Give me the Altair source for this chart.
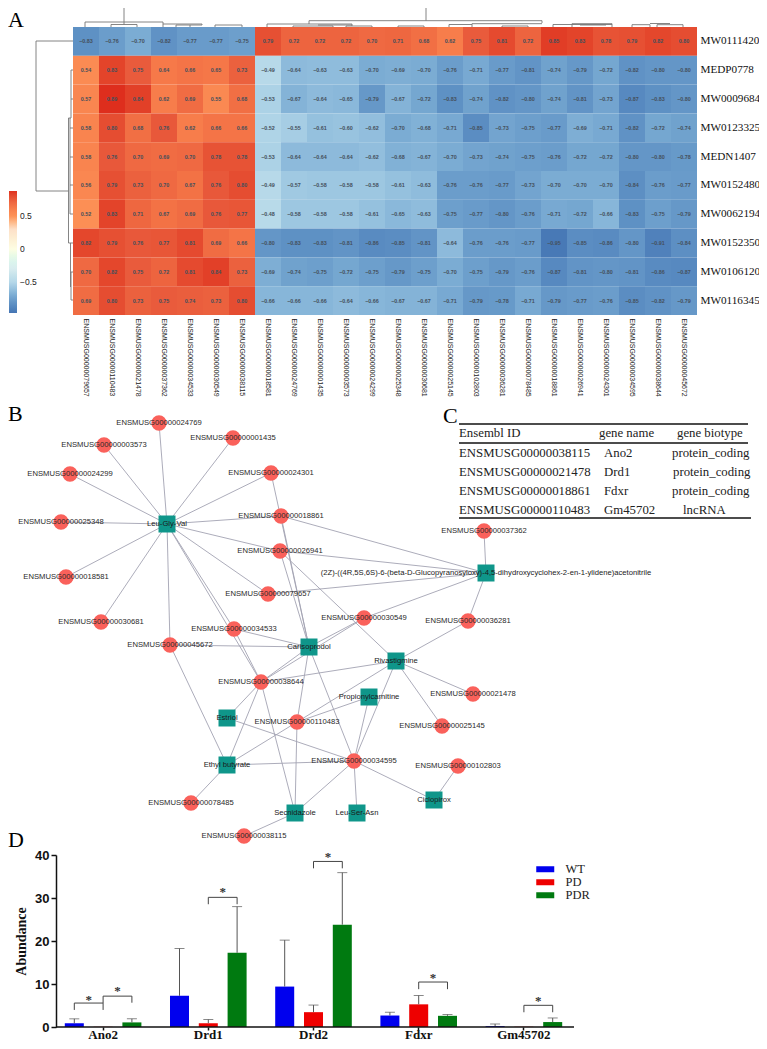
import altair as alt
import pandas as pd

SANS = "Liberation Sans"
SERIF = "Liberation Serif"

# ---------- Panel A data ----------
cols = ["ENSMUSG00000079657","ENSMUSG00000110483","ENSMUSG00000021478","ENSMUSG00000037362","ENSMUSG00000034533","ENSMUSG00000030549","ENSMUSG00000038115",
        "ENSMUSG00000018581","ENSMUSG00000024769","ENSMUSG00000001435","ENSMUSG00000003573","ENSMUSG00000024299","ENSMUSG00000025348","ENSMUSG00000030681",
        "ENSMUSG00000025145","ENSMUSG00000102803","ENSMUSG00000036281","ENSMUSG00000078485","ENSMUSG00000018861","ENSMUSG00000026941","ENSMUSG00000024301",
        "ENSMUSG00000034595","ENSMUSG00000038644","ENSMUSG00000045672"]
rows = ["MW0111420","MEDP0778","MW0009684","MW0123325","MEDN1407","MW0152480","MW0062194","MW0152350","MW0106120","MW0116345"]
r0 = [-0.83,-0.76,-0.70,-0.82,-0.77,-0.77,-0.75,0.79,0.72,0.72,0.72,0.70,0.71,0.68,0.62,0.75,0.81,0.72,0.85,0.83,0.78,0.79,0.82,0.80]
r1 = [0.54,0.83,0.75,0.64,0.66,0.65,0.73,-0.49,-0.64,-0.63,-0.63,-0.70,-0.69,-0.70,-0.76,-0.71,-0.77,-0.81,-0.74,-0.79,-0.72,-0.82,-0.80,-0.80]
r2 = [0.57,0.89,0.84,0.62,0.69,0.55,0.68,-0.53,-0.67,-0.64,-0.65,-0.79,-0.67,-0.72,-0.83,-0.74,-0.82,-0.80,-0.74,-0.81,-0.73,-0.87,-0.83,-0.80]
r3 = [0.58,0.80,0.68,0.76,0.62,0.66,0.66,-0.52,-0.55,-0.61,-0.60,-0.62,-0.70,-0.68,-0.71,-0.85,-0.73,-0.75,-0.77,-0.69,-0.71,-0.82,-0.72,-0.74]
r4 = [0.58,0.76,0.70,0.69,0.70,0.78,0.78,-0.53,-0.64,-0.64,-0.64,-0.62,-0.68,-0.67,-0.70,-0.73,-0.74,-0.75,-0.76,-0.72,-0.72,-0.80,-0.80,-0.78]
r5 = [0.56,0.79,0.73,0.70,0.67,0.76,0.80,-0.49,-0.57,-0.58,-0.58,-0.58,-0.61,-0.63,-0.76,-0.76,-0.77,-0.73,-0.70,-0.70,-0.70,-0.84,-0.76,-0.77]
r6 = [0.52,0.83,0.71,0.67,0.69,0.76,0.77,-0.48,-0.58,-0.58,-0.58,-0.61,-0.65,-0.63,-0.75,-0.77,-0.80,-0.76,-0.71,-0.72,-0.66,-0.83,-0.75,-0.79]
r7 = [0.82,0.79,0.76,0.77,0.81,0.69,0.66,-0.80,-0.83,-0.83,-0.81,-0.86,-0.85,-0.81,-0.64,-0.76,-0.76,-0.77,-0.95,-0.85,-0.86,-0.80,-0.91,-0.84]
r8 = [0.70,0.82,0.75,0.72,0.81,0.84,0.73,-0.69,-0.74,-0.75,-0.72,-0.75,-0.79,-0.75,-0.70,-0.75,-0.79,-0.76,-0.87,-0.81,-0.80,-0.81,-0.86,-0.87]
r9 = [0.69,0.80,0.73,0.75,0.74,0.73,0.80,-0.66,-0.66,-0.66,-0.64,-0.66,-0.67,-0.67,-0.71,-0.79,-0.78,-0.71,-0.79,-0.77,-0.76,-0.85,-0.82,-0.79]
matrix = [r0,r1,r2,r3,r4,r5,r6,r7,r8,r9]

color_stops = [-0.97,-0.85,-0.75,-0.65,-0.5,-0.3,0,0.3,0.5,0.65,0.75,0.88]
color_vals = ["#4575b4","#5b8dc2","#6d9fcc","#8ab8da","#b5d8e9","#d8ecef","#fdfde2","#fde0c8","#fd9257","#f57748","#e95b3c","#df321f"]

# dendrogram segments: x1, y1, x2, y2 in the panel's layout units
den_top = [
 (124,8,124,22),(85,22,163,22),(85,22,85,27),(163,22,163,24),
 (111,24.5,137,24.5),(111,24.5,111,27),(137,24.5,137,27),(124,22,124,24.5),
 (163,24,202,24),(163,24,163,27),(176,25,202,25),(176,25,176,27),(190,25,190,27),
 (202,24,202,25),(215,25,242,25),(215,25,215,27),(242,25,242,27),
 (426,8,426,20.7),(309,20.7,542,20.7),(309,20.7,309,24),(542,20.7,542,23),
 (267,24,352,24),(267,24,267,27),(352,24,352,26),(293,26,333,26),(293,26,293,27),(333,26,333,27),
 (318,25,352,25),(346,26,372,26),(372,26,372,27),(346,26,346,27),
 (449,24.5,472,24.5),(449,24.5,449,27),(472,23.7,542,23.7),(472,23.7,472,27),
 (398,26,424,26),(398,26,398,27),(424,26,424,27),(502,26,528,26),(502,26,502,27),(528,26,528,27),
 (553,24.5,612,24.5),(553,24.5,553,27),(572,23.7,612,23.7),(572,23.7,572,27),(580,25,606,25),(612,23.7,612,27),
 (632,24.7,650,24.7),(632,24.7,632,27),(650,24.7,650,27),(657,24.7,683,24.7),(657,24.7,657,27),(683,24.7,683,27),
 (650,23.5,670,23.5),
]
den_left = [
 (36,41,36,191),(36,41,73,41),(36,191,68.5,191),
 (68.5,118,68.5,243),(68.5,118,71,118),(71,70,71,100),(71,70,73,70),(71,99,73,99),(71,100,71,118),
 (70,118,70,214),(70,128,73,128),(70,157,73,157),(70,185,73,185),(70,214,73,214),
 (68.5,243,73,243),(70.5,243,70.5,287),(71,272,73,272),(71,300,73,300),(71,272,71,300),
]

# ---------- Panel B data ----------
gene_nodes = ["ENSMUSG00000024769","ENSMUSG00000003573","ENSMUSG00000001435","ENSMUSG00000024299","ENSMUSG00000024301","ENSMUSG00000025348",
              "ENSMUSG00000018861","ENSMUSG00000026941","ENSMUSG00000018581","ENSMUSG00000079657","ENSMUSG00000030681","ENSMUSG00000034533",
              "ENSMUSG00000030549","ENSMUSG00000045672","ENSMUSG00000038644","ENSMUSG00000110483","ENSMUSG00000034595","ENSMUSG00000078485",
              "ENSMUSG00000038115","ENSMUSG00000021478","ENSMUSG00000025145","ENSMUSG00000102803","ENSMUSG00000037362","ENSMUSG00000036281"]
gene_x = [159,104,233,70,271,61,281,280,66,268,101,234,364,170,261,297,354,191,244,473,442,458,484,468]
gene_y = [423,445,438,474,473,522,516,551,577,594,622,629,618,645,682,722,761,803,836,694,726,766,531,621]
GLU = "(2Z)-((4R,5S,6S)-6-(beta-D-Glucopyranosyloxy)-4,5-dihydroxycyclohex-2-en-1-ylidene)acetonitrile"
met_nodes = ["Leu-Gly-Val",GLU,"Carisoprodol","Rivastigmine","Propionylcarnitine","Estriol","Ethyl butyrate","Secnidazole","Leu-Ser-Asn","Ciclopirox"]
met_x = [167,486,309,396,369,227,227,295,357,434]
met_y = [524,573,647,661,697,718,765,813,813,800]
def E(n):
    return "ENSMUSG00000"+n
edge_pairs = [("Leu-Gly-Val",E(x)) for x in ["024769","003573","001435","024299","024301","025348","018861","026941","018581","079657","030681","034533","045672","038644"]]
edge_pairs += [("Carisoprodol",E(x)) for x in ["024301","018861","026941","030549","034533","045672","038644","110483","034595"]]
edge_pairs += [(GLU,E(x)) for x in ["018861","026941","079657","037362","036281","030549"]]
edge_pairs += [("Rivastigmine",E(x)) for x in ["026941","036281","038644","034595","021478","025145","110483"]]
edge_pairs += [("Propionylcarnitine",E(x)) for x in ["110483","034595"]]
edge_pairs += [("Estriol",E(x)) for x in ["038644","034595"]]
edge_pairs += [("Ethyl butyrate",E(x)) for x in ["045672","038644","110483","034595","078485"]]
edge_pairs += [("Secnidazole",E(x)) for x in ["038644","110483","034595","038115"]]
edge_pairs += [("Leu-Ser-Asn",E("034595")),("Ciclopirox",E("034595")),("Ciclopirox",E("102803")),(E("038644"),E("034533")),(E("038644"),E("030549"))]

# ---------- Panel C data ----------
tbl_text = ["Ensembl ID","gene name","gene biotype",
            "ENSMUSG00000038115","Ano2","protein_coding",
            "ENSMUSG00000021478","Drd1","protein_coding",
            "ENSMUSG00000018861","Fdxr","protein_coding",
            "ENSMUSG00000110483","Gm45702","lncRNA"]
tbl_x = [459,599,677, 459,604,672, 459,604,673, 459,604,672, 459,604,683]
tbl_y = [433,433,433, 453,453,453, 472,472,472, 491,491,491, 510,510,510]
tbl_rule_x = [459,459,459]
tbl_rule_x2 = [748,748,751]
tbl_rule_y = [424,443,518]

# panel letters
let_text = ["B","C","D"]
let_x = [8,443,8]
let_y = [421,423,847]

# ---------- Panel D data ----------
genes = ["Ano2","Drd1","Drd2","Fdxr","Gm45702"]
groups = ["WT","PD","PDR"]
means = {"WT":[0.85,7.25,9.4,2.67,0.2],"PD":[0.05,0.9,3.45,5.27,0.03],"PDR":[1.07,17.25,23.8,2.6,1.15]}
tops = {"WT":[1.9,18.25,20.2,3.43,0.7],"PD":[None,1.75,5.1,7.33,None],"PDR":[1.9,28.0,35.9,2.9,2.1]}
# significance brackets: gene, left group, right group, left drop, right drop, top, star height
brackets = [("Ano2","WT","PD",3.97,3.97,5.57,7.0),("Ano2","PD","PDR",5.57,5.65,7.18,9.0),
            ("Drd1","PD","PDR",28.55,28.55,30.15,32.06),("Drd2","PD","PDR",36.9,36.9,38.5,40.3),
            ("Fdxr","PD","PDR",8.8,8.8,10.46,12.2),("Gm45702","PD","PDR",3.43,3.43,5.04,6.8)]

# ---------- Panel A chart ----------
heat_df = pd.DataFrame([{"row":rows[i],"col":cols[j],"v":matrix[i][j]} for i in range(10) for j in range(24)])
color_scale = alt.Scale(domain=color_stops, range=color_vals)
hx = alt.X("col:N", sort=cols, title=None, scale=alt.Scale(domain=cols, range=[65,689]),
           axis=alt.Axis(orient="bottom", labelAngle=90, labelAlign="left", labelBaseline="middle", labelFont=SANS, labelFontSize=7,
                         labelColor="#222", labelPadding=3, ticks=False, domain=False, labelOverlap=False, labelLimit=150))
hy = alt.Y("row:N", sort=rows, title=None, scale=alt.Scale(domain=rows, range=[19,307]),
           axis=alt.Axis(orient="right", labelFont=SERIF, labelFontSize=11.2, labelColor="#111", labelPadding=3, ticks=False, domain=False))
heat_rect = alt.Chart(heat_df).mark_rect().encode(
    x=hx, y=hy,
    color=alt.Color("v:Q", scale=color_scale,
                    legend=alt.Legend(orient="none", legendX=1, legendY=183, title=None, gradientLength=122, gradientThickness=8,
                                      values=[0.5,0,-0.5], labelExpr="datum.value == 0 ? '0' : format(datum.value, '.1f')",
                                      labelFont=SANS, labelFontSize=8.5, labelColor="#222", labelOffset=3,
                                      gradientStrokeWidth=0, direction="vertical")))
heat_text = alt.Chart(heat_df).mark_text(font=SANS, fontSize=5.4, fontWeight="bold", color="#45505c").encode(
    x=alt.X("col:N", sort=cols), y=alt.Y("row:N", sort=rows), text=alt.Text("v:Q", format=".2f"))
heat = alt.layer(heat_rect, heat_text)

seg_df = pd.DataFrame(den_top+den_left, columns=["x","y","x2","y2"])
sx = alt.X("x:Q", axis=None, scale=alt.Scale(domain=[8,697], nice=False, zero=False))
sy = alt.Y("y:Q", axis=None, scale=alt.Scale(domain=[315,8], nice=False, zero=False))
segs = alt.Chart(seg_df).mark_rule(color="#777", strokeWidth=0.9).encode(x=sx, y=sy, x2="x2:Q", y2="y2:Q")
letter_a = alt.Chart(pd.DataFrame({"x":[8],"y":[27],"t":["A"]})).mark_text(font=SERIF, fontSize=22, align="left", baseline="alphabetic", color="#000").encode(
    x=sx, y=sy, text="t:N")
dend = alt.layer(segs, letter_a)
panel_a = alt.layer(heat, dend).resolve_scale(x="independent", y="independent").properties(width=689, height=307)

# ---------- Panel B + C chart ----------
node_pos = dict(zip(gene_nodes, zip(gene_x, gene_y)))
node_pos.update(dict(zip(met_nodes, zip(met_x, met_y))))
edge_df = pd.DataFrame([{"x":node_pos[a][0],"y":node_pos[a][1],"x2":node_pos[b][0],"y2":node_pos[b][1]} for a,b in edge_pairs])
gene_df = pd.DataFrame({"x":gene_x,"y":gene_y,"t":gene_nodes})
met_df = pd.DataFrame({"x":met_x,"y":met_y,"t":met_nodes})
nx = alt.X("x:Q", axis=None, scale=alt.Scale(domain=[8,759], nice=False, zero=False))
ny = alt.Y("y:Q", axis=None, scale=alt.Scale(domain=[845,325], nice=False, zero=False))
edges_l = alt.Chart(edge_df).mark_rule(color="#a3a3b2", strokeWidth=0.9).encode(x=nx, y=ny, x2="x2:Q", y2="y2:Q")
circles = alt.Chart(gene_df).mark_circle(size=235, color="#fa615b", opacity=1).encode(x=nx, y=ny)
squares = alt.Chart(met_df).mark_square(size=289, color="#0f968a", opacity=1).encode(x=nx, y=ny)
labels_g = alt.Chart(gene_df).mark_text(font=SANS, fontSize=7.65, color="#2a2a2a").encode(x=nx, y=ny, text="t:N")
labels_m = alt.Chart(met_df).mark_text(font=SANS, fontSize=7.65, color="#1a1a1a").encode(x=nx, y=ny, text="t:N")
tbl_df = pd.DataFrame({"x":tbl_x,"y":tbl_y,"t":tbl_text})
tbl = alt.Chart(tbl_df).mark_text(font=SERIF, fontSize=12.8, align="left", color="#222").encode(x=nx, y=ny, text="t:N")
tbl_r_df = pd.DataFrame({"x":tbl_rule_x,"x2":tbl_rule_x2,"y":tbl_rule_y})
tbl_r = alt.Chart(tbl_r_df).mark_rule(color="#111", strokeWidth=1.3).encode(x=nx, x2="x2:Q", y=ny)
let_df = pd.DataFrame({"x":let_x,"y":let_y,"t":let_text})
letters = alt.Chart(let_df).mark_text(font=SERIF, fontSize=22, align="left", baseline="alphabetic", color="#000").encode(x=nx, y=ny, text="t:N")
panel_b = alt.layer(edges_l, circles, squares, labels_g, labels_m, tbl_r, tbl, letters).properties(width=751, height=520)

# ---------- Panel D chart ----------
bar_df = pd.DataFrame([{"gene":g,"group":k,"mean":means[k][i],"top":tops[k][i]} for k in groups for i,g in enumerate(genes)])
err_df = bar_df.dropna(subset=["top"])
dx = alt.X("gene:N", sort=genes, title=None, scale=alt.Scale(domain=genes, range=[42.5,568.5], paddingInner=0, paddingOuter=0),
           axis=alt.Axis(labelAngle=0, labelFont=SERIF, labelFontWeight="bold", labelFontSize=13, labelColor="#111", domain=False,
                         tickColor="#111", tickWidth=1.5, tickSize=3, labelPadding=-2))
dxo = alt.XOffset("group:N", sort=groups, scale=alt.Scale(domain=groups, paddingInner=0.34, paddingOuter=0.4965))
dy = alt.Y("mean:Q", title="Abundance", scale=alt.Scale(domain=[0,40], nice=False),
           axis=alt.Axis(values=[0,10,20,30,40], offset=-48, grid=False, labelFont=SANS, labelFontWeight="bold", labelFontSize=13, labelColor="#111",
                         domainColor="#111", domainWidth=1.5, tickColor="#111", tickWidth=1.5, tickSize=5, labelPadding=2,
                         titleFont=SERIF, titleFontWeight="bold", titleFontSize=14, titleColor="#111", titlePadding=6))
bars = alt.Chart(bar_df).mark_bar().encode(
    x=dx, xOffset=dxo, y=dy,
    color=alt.Color("group:N", sort=groups, scale=alt.Scale(domain=groups, range=["#0000ee","#ee0000","#007a10"]),
                    legend=alt.Legend(orient="none", legendX=531, legendY=8, title=None, symbolType="M-1.5,-0.5H1.5V0.5H-1.5Z", symbolSize=144,
                                      symbolStrokeWidth=0, labelFont=SERIF, labelFontSize=12.5, labelColor="#222", labelOffset=14, rowPadding=0, padding=0)))
err_rule = alt.Chart(err_df).mark_rule(color="#555", strokeWidth=1).encode(
    x=alt.X("gene:N", sort=genes), xOffset=dxo, y=alt.Y("mean:Q"), y2="top:Q")
err_cap = alt.Chart(err_df).mark_tick(color="#555", thickness=1, size=10, orient="horizontal").encode(
    x=alt.X("gene:N", sort=genes), xOffset=dxo, y=alt.Y("top:Q"))
br_rows = []
st_rows = []
for n,(g,a,b,d1,d2,top,star) in enumerate(brackets):
    br_rows += [{"b":n,"s":0,"gene":g,"group":a,"v":d1},{"b":n,"s":1,"gene":g,"group":a,"v":top},
                {"b":n,"s":2,"gene":g,"group":b,"v":top},{"b":n,"s":3,"gene":g,"group":b,"v":d2}]
    st_rows.append({"gene":g,"group":b,"v":star,"t":"*"})
br_lines = alt.Chart(pd.DataFrame(br_rows)).mark_line(color="#444", strokeWidth=1).encode(
    x=alt.X("gene:N", sort=genes), xOffset=dxo, y=alt.Y("v:Q"), detail="b:N", order="s:Q")
stars = alt.Chart(pd.DataFrame(st_rows)).mark_text(font=SERIF, fontWeight="bold", fontSize=13, color="#333", dx=-14.4, dy=3).encode(
    x=alt.X("gene:N", sort=genes), xOffset=dxo, y=alt.Y("v:Q"), text="t:N")
base = alt.Chart(pd.DataFrame({"v":[0]})).mark_rule(color="#111", strokeWidth=1.6).encode(
    x=alt.value(48), x2=alt.value(566), y=alt.Y("v:Q"))
panel_d = alt.layer(bars, err_rule, err_cap, br_lines, stars, base).properties(width=751, height=172)

chart = (alt.vconcat(panel_a, panel_b, panel_d, spacing=10, bounds="flush")
         .properties(padding={"left":0,"right":-1,"top":-1,"bottom":0})
         .configure_view(stroke=None))
chart.save("out.html", embed_options={"renderer": "svg", "actions": False})
